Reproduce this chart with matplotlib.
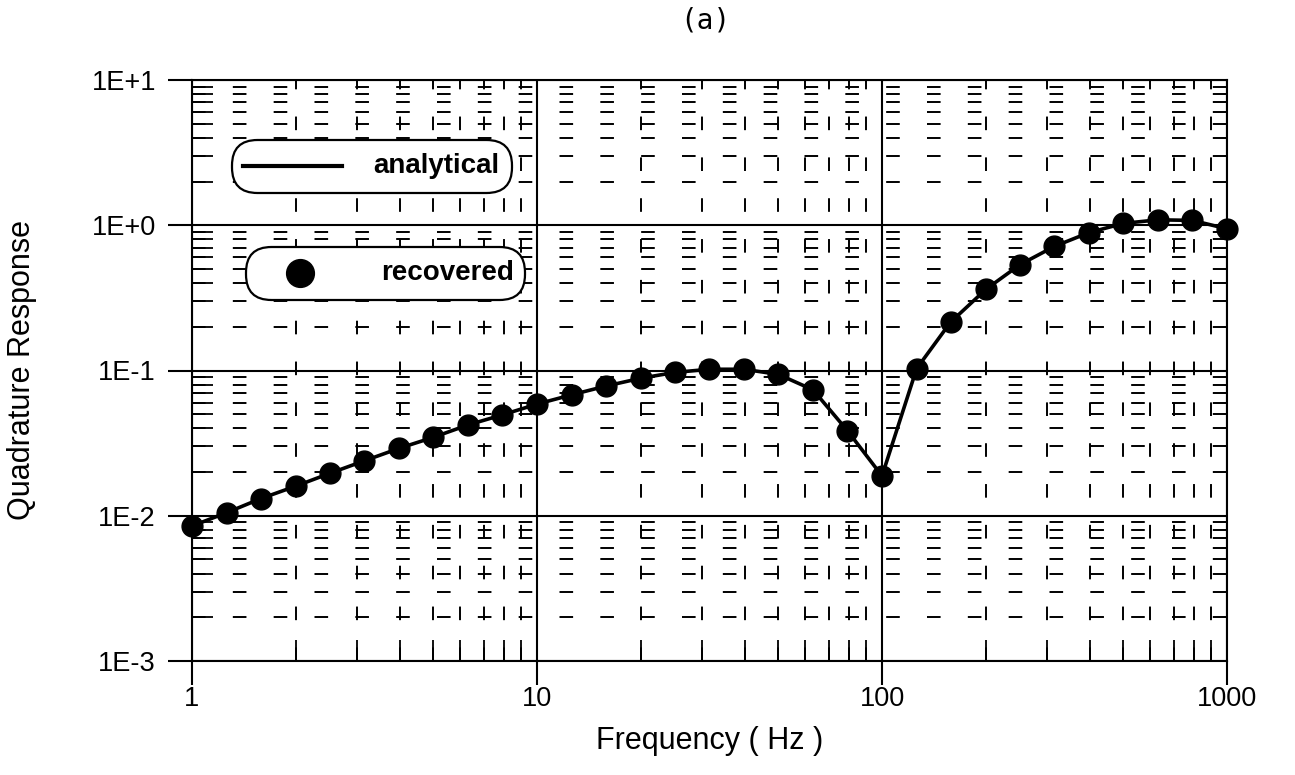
import matplotlib.pyplot as plt
import numpy as np
from matplotlib.patches import FancyBboxPatch
from matplotlib.lines import Line2D
from matplotlib.transforms import IdentityTransform
from matplotlib.ticker import FixedLocator, LogLocator, NullFormatter

plt.rcParams['font.family'] = ['Liberation Sans', 'DejaVu Sans']

# frequencies, 10 points per decade
freq = [1, 1.26, 1.58, 2.0, 2.51, 3.16, 3.98, 5.01, 6.31, 7.94,
        10, 12.6, 15.8, 20.0, 25.1, 31.6, 39.8, 50.1, 63.1, 79.4,
        100, 126, 158, 200, 251, 316, 398, 501, 631, 794, 1000]
quad = [0.0085, 0.0105, 0.0131, 0.016, 0.0196, 0.0239, 0.0291, 0.0347, 0.0422, 0.0495,
        0.0587, 0.068, 0.078, 0.0885, 0.097, 0.102, 0.102, 0.094, 0.0736, 0.0385,
        0.0188, 0.103, 0.215, 0.362, 0.535, 0.715, 0.89, 1.03, 1.09, 1.08, 0.945]

x_ticks = [1, 10, 100, 1000]
x_labels = ["1", "10", "100", "1000"]
y_ticks = [1e-3, 1e-2, 1e-1, 1, 10]
y_labels = ["1E-3", "1E-2", "1E-1", "1E+0", "1E+1"]

W, H = 1295, 775
fig = plt.figure(figsize=(W / 100, H / 100), dpi=100)
ax = fig.add_axes([192 / W, 1 - 661 / H, (1227 - 192) / W, (661 - 80) / H])

ax.set_xscale('log')
ax.set_yscale('log')
ax.set_xlim(1, 1000)
ax.set_ylim(1e-3, 10)

ax.xaxis.set_major_locator(FixedLocator(x_ticks))
ax.set_xticklabels(x_labels)
ax.yaxis.set_major_locator(FixedLocator(y_ticks))
ax.set_yticklabels(y_labels)
ax.xaxis.set_minor_locator(LogLocator(base=10, subs=np.arange(2, 10)))
ax.yaxis.set_minor_locator(LogLocator(base=10, subs=np.arange(2, 10)))
ax.xaxis.set_minor_formatter(NullFormatter())
ax.yaxis.set_minor_formatter(NullFormatter())

ax.tick_params(which='major', direction='out', length=17, width=1.5,
               labelsize=19.5, color='black')
ax.tick_params(axis='y', which='major', pad=9)
ax.tick_params(axis='x', which='major', pad=1)
ax.tick_params(which='minor', direction='in', length=15, width=1.3)

ax.grid(which='major', color='black', linewidth=1.5)
ax.grid(which='minor', color='black', linewidth=1.4, linestyle=(0, (7, 14)))

for s in ax.spines.values():
    s.set_linewidth(1.5)

ax.plot(freq, quad, color='black', linewidth=2.6, marker='o',
        markersize=15, zorder=5, clip_on=False)

ax.set_xlabel("Frequency ( Hz )", fontsize=22)
ax.set_ylabel("Quadrature Response", fontsize=22)
ax.xaxis.set_label_coords(0.5, -(726 - 661) / 581)
ax.yaxis.set_label_coords(-(192 - 37) / 1035, 0.5)
fig.text(705 / W, 1 - 20 / H, "(a)", fontsize=20, ha='center', va='center',
         family=['DejaVu Sans Mono'])

# legend boxes, drawn in pixel coordinates (origin bottom-left)
for (x0, y0, x1, y1) in [(232, 140, 512, 193), (246, 247, 525, 300)]:
    h = y1 - y0
    box = FancyBboxPatch((x0, H - y1), x1 - x0, h, transform=IdentityTransform(),
                         boxstyle="round,pad=0,rounding_size=%f" % (h / 2 - 1),
                         facecolor='white', edgecolor='black', linewidth=1.6,
                         zorder=10)
    fig.patches.append(box)

fig.lines.append(Line2D([243 / W, 342 / W], [1 - 166 / H, 1 - 166 / H],
                        transform=fig.transFigure, color='black',
                        linewidth=3, zorder=11))
fig.lines.append(Line2D([300 / W], [1 - 273 / H], transform=fig.transFigure,
                        color='black', marker='o', markersize=20,
                        linestyle='none', zorder=11))
fig.text(499 / W, 1 - 166 / H, "analytical", fontsize=20, fontweight='bold',
         ha='right', va='center', zorder=12)
fig.text(514 / W, 1 - 273 / H, "recovered", fontsize=20, fontweight='bold',
         ha='right', va='center', zorder=12)

plt.savefig("out.png", dpi=100)
